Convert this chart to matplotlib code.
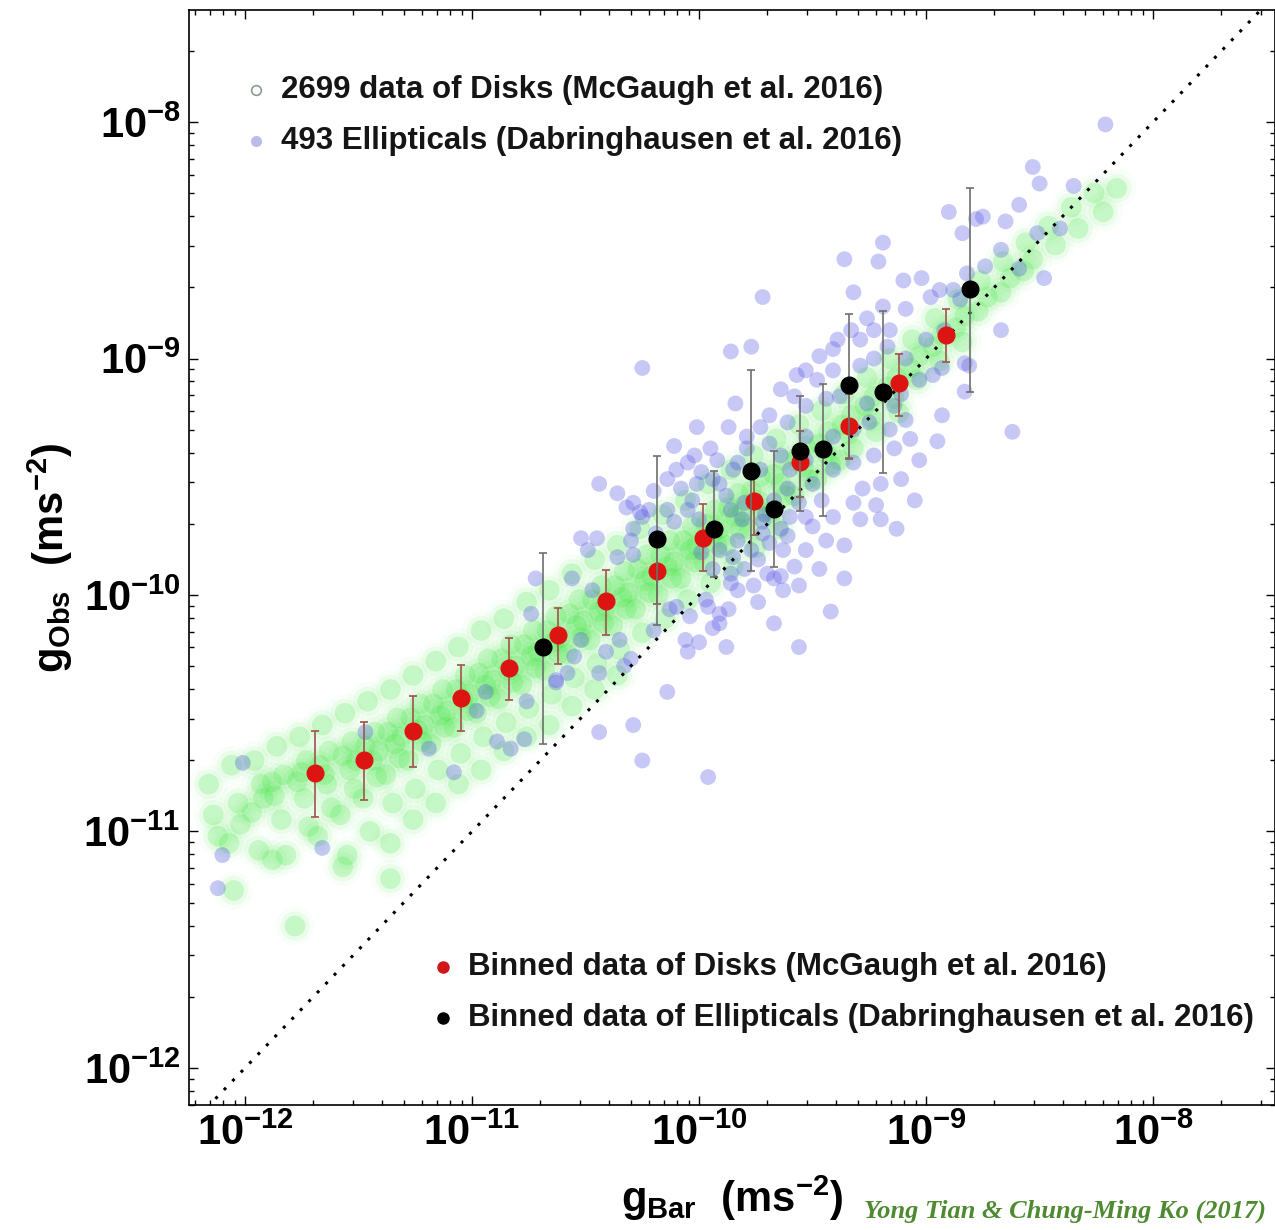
import numpy as np
import matplotlib.pyplot as plt
from matplotlib.ticker import FixedLocator, LogLocator, NullFormatter

plt.rcParams['font.family'] = ['Liberation Sans', 'DejaVu Sans']
plt.rcParams['font.weight'] = 'bold'
plt.rcParams['mathtext.fontset'] = 'custom'
plt.rcParams['mathtext.rm'] = 'Liberation Sans:bold'
plt.rcParams['mathtext.it'] = 'Liberation Sans:bold'
plt.rcParams['mathtext.bf'] = 'Liberation Sans:bold'

# individual disk measurements, log10(gbar), log10(gobs)
disk_log = [
    (-12.16, -10.80), (-12.12, -11.02), (-12.14, -10.93),
    (-12.06, -10.72), (-12.03, -10.88), (-12.07, -11.05), (-12.02, -10.97), (-12.05, -11.25),
    (-11.96, -10.70), (-11.93, -10.80), (-11.97, -10.92), (-11.94, -11.08), (-11.92, -10.86),
    (-11.86, -10.64), (-11.83, -10.76), (-11.87, -10.85), (-11.84, -10.95), (-11.82, -11.10), (-11.88, -10.79), (-11.88, -11.12),
    (-11.76, -10.60), (-11.73, -10.70), (-11.77, -10.79), (-11.74, -10.86), (-11.72, -10.98), (-11.78, -11.40), (-11.75, -10.75),
    (-11.66, -10.55), (-11.63, -10.66), (-11.67, -10.72), (-11.64, -10.80), (-11.62, -10.90), (-11.68, -11.02), (-11.65, -10.76),
    (-11.56, -10.50), (-11.53, -10.62), (-11.57, -10.68), (-11.54, -10.74), (-11.52, -10.82), (-11.58, -10.93), (-11.55, -11.10), (-11.51, -10.70), (-11.57, -11.15),
    (-11.46, -10.45), (-11.43, -10.58), (-11.47, -10.64), (-11.44, -10.70), (-11.42, -10.77), (-11.48, -10.86), (-11.45, -11.00), (-11.41, -10.66),
    (-11.36, -10.40), (-11.33, -10.52), (-11.37, -10.58), (-11.34, -10.63), (-11.32, -10.69), (-11.38, -10.76), (-11.35, -10.88), (-11.31, -10.60), (-11.36, -11.05), (-11.36, -11.20),
    (-11.26, -10.34), (-11.23, -10.46), (-11.27, -10.52), (-11.24, -10.57), (-11.22, -10.62), (-11.28, -10.70), (-11.25, -10.82), (-11.21, -10.55), (-11.26, -10.95),
    (-11.16, -10.28), (-11.13, -10.40), (-11.17, -10.46), (-11.14, -10.51), (-11.12, -10.56), (-11.18, -10.63), (-11.15, -10.74), (-11.11, -10.49), (-11.16, -10.88),
    (-11.06, -10.22), (-11.03, -10.34), (-11.07, -10.40), (-11.04, -10.44), (-11.02, -10.49), (-11.08, -10.56), (-11.05, -10.67), (-11.01, -10.42), (-11.06, -10.80),
    (-10.96, -10.15), (-10.93, -10.27), (-10.97, -10.33), (-10.94, -10.38), (-10.92, -10.43), (-10.98, -10.50), (-10.95, -10.60), (-10.91, -10.36), (-10.96, -10.74),
    (-10.86, -10.10), (-10.83, -10.21), (-10.87, -10.27), (-10.84, -10.32), (-10.82, -10.37), (-10.88, -10.44), (-10.85, -10.54), (-10.81, -10.30), (-10.86, -10.66),
    (-10.76, -10.03), (-10.73, -10.15), (-10.77, -10.21), (-10.74, -10.26), (-10.72, -10.31), (-10.78, -10.38), (-10.75, -10.48), (-10.71, -10.24), (-10.76, -10.60),
    (-10.66, -9.98), (-10.63, -10.09), (-10.67, -10.15), (-10.64, -10.20), (-10.62, -10.25), (-10.68, -10.32), (-10.65, -10.42), (-10.61, -10.18), (-10.66, -10.55),
    (-10.56, -9.91), (-10.53, -10.02), (-10.57, -10.08), (-10.54, -10.13), (-10.52, -10.18), (-10.58, -10.25), (-10.55, -10.35), (-10.51, -10.11), (-10.56, -10.47),
    (-10.46, -9.85), (-10.43, -9.96), (-10.47, -10.02), (-10.44, -10.07), (-10.42, -10.12), (-10.48, -10.19), (-10.45, -10.29), (-10.41, -10.05), (-10.46, -10.40),
    (-10.36, -9.79), (-10.33, -9.90), (-10.37, -9.96), (-10.34, -10.01), (-10.32, -10.06), (-10.38, -10.13), (-10.35, -10.23), (-10.31, -9.99), (-10.36, -10.34),
    (-10.26, -9.72), (-10.23, -9.83), (-10.27, -9.89), (-10.24, -9.94), (-10.22, -9.99), (-10.28, -10.06), (-10.25, -10.16), (-10.21, -9.92),
    (-10.16, -9.66), (-10.13, -9.77), (-10.17, -9.83), (-10.14, -9.88), (-10.12, -9.93), (-10.18, -10.00), (-10.15, -10.10), (-10.11, -9.86),
    (-10.06, -9.60), (-10.03, -9.71), (-10.07, -9.77), (-10.04, -9.81), (-10.02, -9.86), (-10.08, -9.93), (-10.05, -10.02), (-10.01, -9.79),
    (-9.96, -9.53), (-9.93, -9.64), (-9.97, -9.70), (-9.94, -9.74), (-9.92, -9.79), (-9.98, -9.86), (-9.95, -9.95), (-9.91, -9.72),
    (-9.86, -9.47), (-9.83, -9.57), (-9.87, -9.63), (-9.84, -9.67), (-9.82, -9.72), (-9.88, -9.79), (-9.85, -9.88), (-9.81, -9.65),
    (-9.76, -9.41), (-9.73, -9.50), (-9.77, -9.56), (-9.74, -9.60), (-9.72, -9.65), (-9.78, -9.72), (-9.75, -9.80),
    (-9.66, -9.34), (-9.63, -9.43), (-9.67, -9.49), (-9.64, -9.53), (-9.62, -9.58), (-9.68, -9.65), (-9.65, -9.72),
    (-9.56, -9.28), (-9.53, -9.37), (-9.57, -9.42), (-9.54, -9.46), (-9.52, -9.51), (-9.58, -9.58),
    (-9.46, -9.22), (-9.43, -9.31), (-9.47, -9.36), (-9.44, -9.40), (-9.42, -9.45), (-9.48, -9.51),
    (-9.36, -9.15), (-9.33, -9.24), (-9.37, -9.28), (-9.34, -9.32), (-9.32, -9.38), (-9.38, -9.43),
    (-9.26, -9.08), (-9.23, -9.16), (-9.27, -9.20), (-9.24, -9.25), (-9.22, -9.31),
    (-9.16, -9.00), (-9.13, -9.08), (-9.17, -9.12), (-9.14, -9.17), (-9.12, -9.23),
    (-9.06, -8.92), (-9.03, -8.99), (-9.07, -9.04), (-9.04, -9.09),
    (-8.96, -8.83), (-8.93, -8.90), (-8.97, -8.95), (-8.94, -9.01),
    (-8.86, -8.75), (-8.83, -8.82), (-8.87, -8.87), (-8.84, -8.93),
    (-8.76, -8.67), (-8.73, -8.74), (-8.77, -8.80),
    (-8.66, -8.59), (-8.63, -8.66), (-8.67, -8.72),
    (-8.56, -8.51), (-8.53, -8.58), (-8.57, -8.63),
    (-8.46, -8.44), (-8.43, -8.52),
    (-8.36, -8.36), (-8.33, -8.45),
    (-8.26, -8.30), (-8.22, -8.38),
    (-8.16, -8.28),
]

# individual elliptical measurements, log10(gbar), log10(gobs)
ell_log = [
    (-12.01, -10.71), (-12.10, -11.10), (-12.12, -11.24), (-11.66, -11.07), (-11.08, -10.75),
    (-10.89, -10.62), (-10.83, -10.65), (-10.77, -10.61), (-10.76, -10.45), (-10.63, -10.37),
    (-11.47, -10.58), (-11.19, -10.65), (-10.98, -10.49), (-10.94, -10.41),
    (-10.44, -9.53), (-10.36, -9.57), (-10.29, -9.61), (-10.26, -9.65), (-10.32, -9.63),
    (-10.52, -9.76), (-10.45, -9.76), (-10.49, -9.81), (-10.72, -9.93), (-10.56, -9.93),
    (-10.74, -10.08), (-10.47, -9.98), (-10.36, -9.84), (-10.29, -9.83), (-10.58, -10.33),
    (-10.63, -10.36), (-10.52, -10.19), (-10.55, -10.26), (-10.44, -10.33), (-10.44, -10.58),
    (-10.29, -10.55), (-10.25, -10.70), (-10.14, -10.41), (-10.33, -10.30), (-10.30, -10.27),
    (-10.35, -10.19), (-10.41, -10.24), (-10.20, -10.15), (-10.10, -10.05), (-10.04, -10.09),
    (-10.06, -10.19), (-10.00, -10.20), (-10.05, -10.24), (-9.94, -10.14), (-9.88, -10.22),
    (-9.67, -10.12), (-9.56, -10.22), (-9.96, -10.05), (-9.91, -10.08), (-9.87, -10.06),
    (-9.74, -10.03), (-9.83, -9.98), (-9.76, -9.96), (-9.63, -9.98), (-9.64, -9.92),
    (-9.86, -9.91), (-9.94, -9.89), (-9.80, -9.89), (-9.70, -9.91), (-9.99, -9.82),
    (-9.91, -9.81), (-9.85, -9.84), (-9.77, -9.81), (-9.69, -9.78), (-9.63, -9.81),
    (-9.72, -9.69), (-9.64, -9.72), (-9.60, -9.67), (-9.67, -9.60), (-9.61, -9.55),
    (-9.80, -9.61), (-9.88, -9.58), (-9.94, -9.51), (-9.99, -9.48), (-10.05, -9.44),
    (-10.10, -9.47), (-10.14, -9.51), (-10.08, -9.55), (-10.03, -9.60), (-10.20, -9.56),
    (-10.22, -9.64), (-10.14, -9.64), (-10.11, -9.69), (-10.29, -9.72), (-10.30, -9.77),
    (-10.19, -9.74), (-10.02, -9.41), (-9.79, -9.38), (-9.92, -9.43), (-9.85, -9.47),
    (-9.72, -8.74), (-10.25, -9.04), (-9.86, -8.97), (-9.77, -8.95), (-9.36, -8.58),
    (-9.21, -8.59), (-9.10, -8.67), (-9.02, -8.66), (-8.74, -8.61), (-8.82, -8.64),
    (-9.32, -8.72), (-8.88, -8.71), (-8.98, -8.74), (-9.19, -8.78), (-9.26, -8.83),
    (-9.33, -8.88), (-9.39, -8.92), (-9.47, -8.99), (-9.53, -9.05), (-9.48, -9.09),
    (-9.41, -8.96), (-9.29, -8.92), (-9.23, -8.88), (-9.17, -8.95), (-9.23, -9.00),
    (-9.29, -9.03), (-9.41, -9.05), (-9.57, -9.07), (-9.64, -9.13), (-9.58, -9.16),
    (-9.53, -9.20), (-9.44, -9.17), (-9.38, -9.16), (-9.26, -9.19), (-9.14, -9.20),
    (-9.09, -9.26), (-9.25, -9.27), (-9.32, -9.30), (-9.41, -9.33), (-9.53, -9.33),
    (-9.61, -9.27), (-9.69, -9.24), (-9.73, -9.29), (-9.84, -9.19), (-10.01, -9.29),
    (-9.87, -9.29), (-9.79, -9.33), (-9.69, -9.36), (-9.64, -9.41), (-9.53, -9.43),
    (-9.41, -9.47), (-9.32, -9.44), (-9.23, -9.41), (-9.14, -9.38), (-9.11, -9.51),
    (-9.20, -9.53), (-9.28, -9.55), (-9.13, -9.72), (-8.95, -9.35), (-8.93, -9.24),
    (-8.81, -9.03), (-8.62, -9.31), (-9.95, -9.38), (-10.11, -9.37), (-10.01, -9.53),
    (-9.91, -9.53), (-9.83, -9.44), (-10.05, -9.64), (-10.25, -9.67), (-9.86, -9.64),
    (-9.83, -9.77), (-9.72, -9.74), (-9.61, -9.75), (-9.53, -9.81), (-9.44, -9.77),
    (-9.50, -9.71), (-9.41, -9.67), (-9.32, -9.61), (-9.56, -9.61), (-9.58, -9.88),
    (-9.47, -9.89), (-9.67, -9.93), (-9.86, -9.95), (-9.97, -10.02), (-9.42, -10.07),
    (-9.91, -10.12), (-10.13, -10.06), (-9.96, -10.77),
    (-8.21, -8.01), (-8.53, -8.19), (-8.50, -8.26), (-8.35, -8.27), (-8.59, -8.35),
    (-8.90, -8.38), (-8.75, -8.40), (-8.78, -8.41), (-8.65, -8.42), (-8.84, -8.47),
    (-8.51, -8.47), (-9.19, -8.51), (-8.48, -8.66), (-8.94, -8.71), (-8.83, -9.02),
    (-8.93, -9.04), (-8.97, -9.07), (-8.83, -9.14),
    (-9.60, -9.47), (-9.50, -9.53), (-9.46, -9.60), (-9.53, -9.67), (-9.71, -9.66),
    (-9.74, -9.85), (-9.56, -9.96), (-9.36, -9.79), (-9.29, -9.68), (-9.22, -9.62),
    (-9.36, -9.93), (-9.81, -9.68), (-10.00, -9.68), (-9.73, -9.47), (-9.07, -9.34),
    (-9.03, -9.43), (-9.05, -9.60), (-9.20, -9.68), (-9.16, -9.30), (-9.11, -9.15),
    (-9.03, -9.09), (-9.09, -9.00), (-9.16, -8.88), (-9.09, -8.79), (-8.92, -8.88),
    (-9.00, -8.92), (-8.85, -8.75), (-8.67, -8.54), (-8.41, -8.45), (-8.59, -8.62),
    (-8.67, -8.88),
]

# binned disks (McGaugh et al. 2016)
disk_bin_gbar = [2.03e-12, 3.34e-12, 5.50e-12, 8.94e-12, 1.455e-11, 2.39e-11, 3.89e-11,
                 6.53e-11, 1.04e-10, 1.75e-10, 2.79e-10, 4.58e-10, 7.60e-10, 1.225e-9]
disk_bin_gobs = [1.77e-11, 2.01e-11, 2.67e-11, 3.68e-11, 4.93e-11, 6.74e-11, 9.39e-11,
                 1.257e-10, 1.75e-10, 2.49e-10, 3.64e-10, 5.17e-10, 7.85e-10, 1.254e-9]
disk_bin_hi = [2.67e-11, 2.89e-11, 3.75e-11, 5.08e-11, 6.55e-11, 8.85e-11, 1.28e-10,
               1.72e-10, 2.42e-10, 3.47e-10, 4.92e-10, 7.06e-10, 1.04e-9, 1.617e-9]
disk_bin_lo = [1.15e-11, 1.36e-11, 1.88e-11, 2.67e-11, 3.61e-11, 5.13e-11, 6.74e-11,
               9.2e-11, 1.257e-10, 1.79e-10, 2.59e-10, 3.75e-10, 5.69e-10, 9.64e-10]

# binned ellipticals (Dabringhausen et al. 2016)
ell_bin_gbar = [2.06e-11, 6.53e-11, 1.164e-10, 1.69e-10, 2.14e-10, 2.79e-10, 3.52e-10,
                4.58e-10, 6.47e-10, 1.56e-9]
ell_bin_gobs = [6.05e-11, 1.72e-10, 1.91e-10, 3.33e-10, 2.30e-10, 4.05e-10, 4.13e-10,
                7.70e-10, 7.20e-10, 1.96e-9]
ell_bin_hi = [1.51e-10, 3.86e-10, 3.33e-10, 8.92e-10, 4.05e-10, 6.92e-10, 7.78e-10,
              1.54e-9, 1.585e-9, 5.26e-9]
ell_bin_lo = [2.35e-11, 7.50e-11, 1.186e-10, 1.257e-10, 1.31e-10, 2.26e-10, 2.15e-10,
              3.78e-10, 3.27e-10, 7.20e-10]

decades = [1e-12, 1e-11, 1e-10, 1e-9, 1e-8]

disk = 10.0 ** np.array(disk_log)
ell = 10.0 ** np.array(ell_log)

fig = plt.figure(figsize=(12.75, 12.3), dpi=100)
ax = fig.add_axes([189 / 1275, 1 - 1105 / 1230, 1086 / 1275, 1095 / 1230])
ax.set_xscale('log')
ax.set_yscale('log')
ax.set_xlim(10 ** -12.247, 10 ** -7.463)
ax.set_ylim(10 ** -12.157, 10 ** -7.526)

# disk cloud drawn as stacked soft layers so each point fades out at the rim
for size, alpha in [(760, 0.03), (440, 0.06), (220, 0.19)]:
    ax.scatter(disk[:, 0], disk[:, 1], s=size, color='#28e428', alpha=alpha,
               edgecolors='none', zorder=1)
ax.scatter(ell[:, 0], ell[:, 1], s=130, color='#5656e6', alpha=0.32,
           edgecolors='none', zorder=2)

# one-to-one line
ax.plot([1e-13, 1e-7], [1e-13, 1e-7], color='black', lw=2.2,
        linestyle=(0, (1, 3)), zorder=3)

def asym_err(y, lo, hi):
    y = np.array(y)
    return [y - np.array(lo), np.array(hi) - y]

ax.errorbar(disk_bin_gbar, disk_bin_gobs, yerr=asym_err(disk_bin_gobs, disk_bin_lo, disk_bin_hi),
            fmt='o', ms=12, color='#dd1512', mec='#dd1512', ecolor='#a0524a',
            elinewidth=1.2, capsize=3, capthick=1.2, zorder=5)
ax.errorbar(ell_bin_gbar, ell_bin_gobs, yerr=asym_err(ell_bin_gobs, ell_bin_lo, ell_bin_hi),
            fmt='o', ms=12, color='black', mec='black', ecolor='#6e6e6e',
            elinewidth=1.2, capsize=3, capthick=1.2, zorder=6)

# axes styling
for s in ax.spines.values():
    s.set_linewidth(1.2)
for axis in (ax.xaxis, ax.yaxis):
    axis.set_major_locator(FixedLocator(decades))
    axis.set_minor_locator(LogLocator(base=10, subs=np.arange(2, 10), numticks=20))
    axis.set_minor_formatter(NullFormatter())
ax.tick_params(which='both', direction='in', top=True, right=True, width=1.0)
ax.tick_params(which='major', length=6.5, labelsize=30, pad=6)
ax.tick_params(which='minor', length=3.6)
for lab in ax.get_xticklabels() + ax.get_yticklabels():
    lab.set_fontweight('bold')

ax.set_xlabel(r'$g_{\rm Bar}\ \ (\rm ms^{-2})$', fontsize=30, labelpad=14)
ax.set_ylabel(r'$g_{\rm Obs}\ \ (\rm ms^{-2})$', fontsize=30, labelpad=6)

# legend entries
tr = ax.transAxes
fs = 22.5
ax.plot([0.0617], [0.9269], 'o', ms=7, mfc='white', mec='#8c9c8c', mew=1.2, transform=tr, clip_on=False)
ax.plot([0.0617], [0.8804], 'o', ms=8, mfc='#bcbcea', mec='none', transform=tr, clip_on=False)
ax.text(0.0847, 0.9269, '2699 data of Disks (McGaugh et al. 2016)', transform=tr,
        fontsize=fs, fontweight='bold', va='center', color='#151515')
ax.text(0.0847, 0.8804, '493 Ellipticals (Dabringhausen et al. 2016)', transform=tr,
        fontsize=fs, fontweight='bold', va='center', color='#151515')
ax.plot([0.2339], [0.1260], 'o', ms=8, color='#d01818', transform=tr, clip_on=False)
ax.plot([0.2339], [0.0795], 'o', ms=8, color='black', transform=tr, clip_on=False)
ax.text(0.2569, 0.1260, 'Binned data of Disks (McGaugh et al. 2016)', transform=tr,
        fontsize=fs, fontweight='bold', va='center', color='#151515')
ax.text(0.2569, 0.0795, 'Binned data of Ellipticals (Dabringhausen et al. 2016)', transform=tr,
        fontsize=fs, fontweight='bold', va='center', color='#151515')

fig.text(864 / 1275, 12 / 1230, 'Yong Tian & Chung-Ming Ko (2017)', fontsize=19,
         family='Liberation Serif', style='italic', fontweight='bold', color='#4d8a30',
         va='baseline', ha='left')

fig.savefig('out.png', dpi=100)
